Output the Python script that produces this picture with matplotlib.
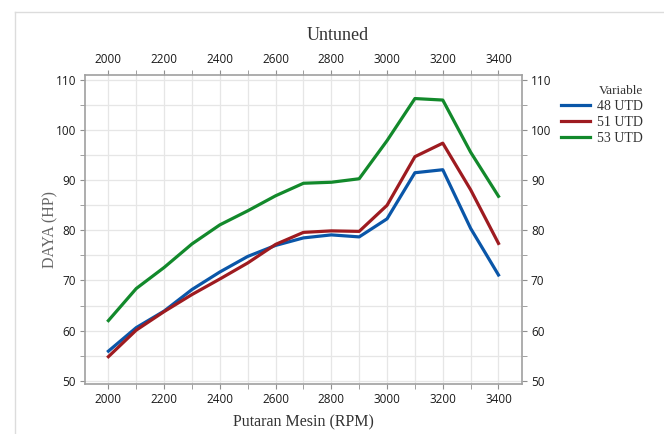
import matplotlib
matplotlib.use('Agg')
from matplotlib import pyplot as plt
from matplotlib.ticker import MultipleLocator
from matplotlib.lines import Line2D

rpm = [2000, 2100, 2200, 2300, 2400, 2500, 2600, 2700, 2800, 2900, 3000, 3100, 3200, 3300, 3400]
utd48 = [55.9, 60.6, 63.9, 68.2, 71.7, 74.8, 77.0, 78.5, 79.1, 78.7, 82.3, 91.5, 92.1, 80.4, 71.1]
utd51 = [54.8, 60.1, 63.8, 67.2, 70.3, 73.5, 77.2, 79.6, 79.9, 79.8, 85.0, 94.7, 97.4, 88.1, 77.4]
utd53 = [62.0, 68.4, 72.6, 77.3, 81.1, 83.9, 86.9, 89.4, 89.6, 90.3, 97.9, 106.3, 106.0, 95.6, 86.8]
labels = ['48 UTD', '51 UTD', '53 UTD']
colors = ['#0a56a8', '#9e1b20', '#12892b']

serif = 'Liberation Serif'
sans = 'Open Sans'

fig = plt.figure(figsize=(6.64, 4.34), dpi=100)
ax = fig.add_axes([0.128, 0.1152, 0.658, 0.712])

for y, c in zip([utd48, utd51, utd53], colors):
    ax.plot(rpm, y, color=c, lw=2.3, solid_joinstyle='round', zorder=3)

ax.set_xlim(1916, 3484)
ax.set_ylim(49.35, 111.0)
ax.xaxis.set_major_locator(MultipleLocator(200))
ax.xaxis.set_minor_locator(MultipleLocator(100))
ax.yaxis.set_major_locator(MultipleLocator(10))
ax.yaxis.set_minor_locator(MultipleLocator(5))
ax.grid(True, which='both', color='#e6e6e6', lw=0.9, zorder=0)
ax.set_axisbelow(True)

ax.tick_params(which='both', direction='out', color='#909090', top=True, right=True,
               labeltop=True, labelright=True, labelsize=8.5, labelcolor='#1a1a1a', pad=3, length=3.5)
for lab in ax.get_xticklabels() + ax.get_yticklabels():
    lab.set_fontfamily(sans)
for sp in ax.spines.values():
    sp.set_color('#a0a0a0')
    sp.set_linewidth(1.2)

ax.set_xlabel('Putaran Mesin (RPM)', fontfamily=serif, fontsize=11.5, color='#333333', labelpad=6)
ax.set_ylabel('DAYA (HP)', fontfamily=serif, fontsize=11.5, color='#666666', labelpad=-2)
fig.text(0.509, 0.918, 'Untuned', ha='center', va='center', fontfamily=serif, fontsize=13, color='#333333')

handles = [Line2D([0], [0], color=c, lw=2.3) for c in colors]
leg = fig.legend(handles, labels, title='Variable', loc='upper left', bbox_to_anchor=(0.845, 0.803),
                 frameon=False, handlelength=2.1, handletextpad=0.5, labelspacing=0.2,
                 borderpad=0, borderaxespad=0, prop={'family': serif, 'size': 10})
leg.get_title().set_fontfamily(serif)
leg.get_title().set_fontsize(9.5)
leg.get_title().set_color('#333333')
for t in leg.get_texts():
    t.set_color('#333333')
leg._legend_box.align = 'right'

# light frame around the graph
fig.add_artist(Line2D([0.023, 0.023], [0.0, 0.972], color='#dcdcdc', lw=1, transform=fig.transFigure))
fig.add_artist(Line2D([0.023, 1.0], [0.972, 0.972], color='#dcdcdc', lw=1, transform=fig.transFigure))

fig.savefig('out.png', dpi=100)
